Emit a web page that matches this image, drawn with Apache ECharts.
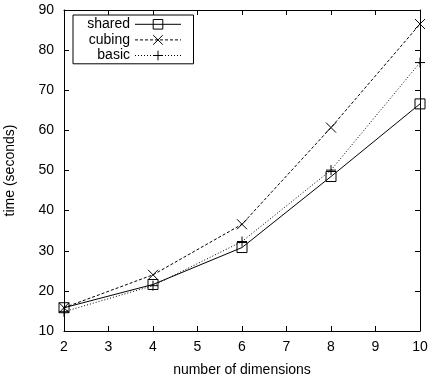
<!DOCTYPE html>
<html>
<head>
<meta charset="utf-8">
<script src="https://cdn.jsdelivr.net/npm/echarts@6/dist/echarts.min.js"></script>
<style>
  html, body { margin: 0; padding: 0; background: #fff; }
  #chart { width: 430px; height: 381px; }
</style>
</head>
<body>
<div id="chart"></div>
<script>
// number of dimensions
var dims = [2, 4, 6, 8, 10];
// time (seconds)
var sharedTimes = [15.8, 21.6, 30.8, 48.5, 66.6];
var cubingTimes = [15.8, 24.0, 36.6, 60.7, 86.5];
var basicTimes = [14.8, 21.3, 32.3, 50.1, 76.9];

var xTicks = [2, 3, 4, 5, 6, 7, 8, 9, 10];
var yTicks = [10, 20, 30, 40, 50, 60, 70, 80, 90];

function pairs(xs, ys) {
  return xs.map(function (x, i) { return [x, ys[i]]; });
}

var font = 'Liberation Sans, Arial, Helvetica, sans-serif';
var chart = echarts.init(document.getElementById('chart'));

// 外框和刻度线（上、右镜像）
var axisCommon = {
  type: 'value',
  interval: 1,
  axisLine: { show: true, onZero: false, lineStyle: { color: '#000', width: 1 } },
  axisTick: { show: true, inside: true, length: 5, lineStyle: { color: '#000' } },
  splitLine: { show: false }
};

chart.setOption({
  animation: false,
  textStyle: { fontFamily: font },
  grid: { left: 64, right: 10, top: 10, bottom: 50, containLabel: false, outerBoundsMode: 'none' },
  legend: {
    left: 73,
    top: 15,
    orient: 'vertical',
    align: 'right',
    itemWidth: 46,
    itemHeight: 12,
    itemGap: 1,
    padding: [2, 12, 1, 2],
    borderColor: '#000',
    borderWidth: 1,
    borderRadius: 0,
    backgroundColor: '#fff',
    lineStyle: { width: 1 },
    itemStyle: { borderWidth: 1 },
    textStyle: { fontSize: 14, lineHeight: 13, color: '#000', width: 55, align: 'right', fontFamily: font },
    data: ['shared', 'cubing', 'basic']
  },
  xAxis: [
    Object.assign({}, axisCommon, {
      min: 2, max: 10,
      name: 'number of dimensions',
      nameLocation: 'middle',
      nameGap: 32,
      nameTextStyle: { fontSize: 14, color: '#000' },
      axisLabel: { fontSize: 14, color: '#000', margin: 9,
        formatter: function (v) { return xTicks.indexOf(v) >= 0 ? String(v) : ''; } }
    }),
    Object.assign({}, axisCommon, {
      min: 2, max: 10, position: 'top',
      axisLabel: { show: false }
    })
  ],
  yAxis: [
    Object.assign({}, axisCommon, {
      min: 10, max: 90, interval: 10,
      name: 'time (seconds)',
      nameLocation: 'middle',
      nameGap: 47,
      nameTextStyle: { fontSize: 14, color: '#000' },
      axisLabel: { fontSize: 14, color: '#000', margin: 10,
        formatter: function (v) { return yTicks.indexOf(v) >= 0 ? String(v) : ''; } }
    }),
    Object.assign({}, axisCommon, {
      min: 10, max: 90, interval: 10, position: 'right',
      axisLabel: { show: false }
    })
  ],
  series: [
    {
      name: 'shared',
      type: 'line',
      data: pairs(dims, sharedTimes),
      symbol: 'rect',
      symbolSize: 10,
      lineStyle: { color: '#000', width: 1, type: 'solid' },
      itemStyle: { color: 'none', borderColor: '#000', borderWidth: 1 },
      z: 3
    },
    {
      name: 'cubing',
      type: 'line',
      data: pairs(dims, cubingTimes),
      symbol: 'path://M0,0L10,10M10,0L0,10',
      symbolSize: 10,
      lineStyle: { color: '#000', width: 1, type: [3, 2] },
      itemStyle: { color: 'none', borderColor: '#000', borderWidth: 1 },
      z: 2
    },
    {
      name: 'basic',
      type: 'line',
      data: pairs(dims, basicTimes),
      symbol: 'path://M5,0L5,10M0,5L10,5',
      symbolSize: 10,
      lineStyle: { color: '#000', width: 1, type: [1, 2] },
      itemStyle: { color: 'none', borderColor: '#000', borderWidth: 1 },
      z: 2
    }
  ]
});
</script>
</body>
</html>
